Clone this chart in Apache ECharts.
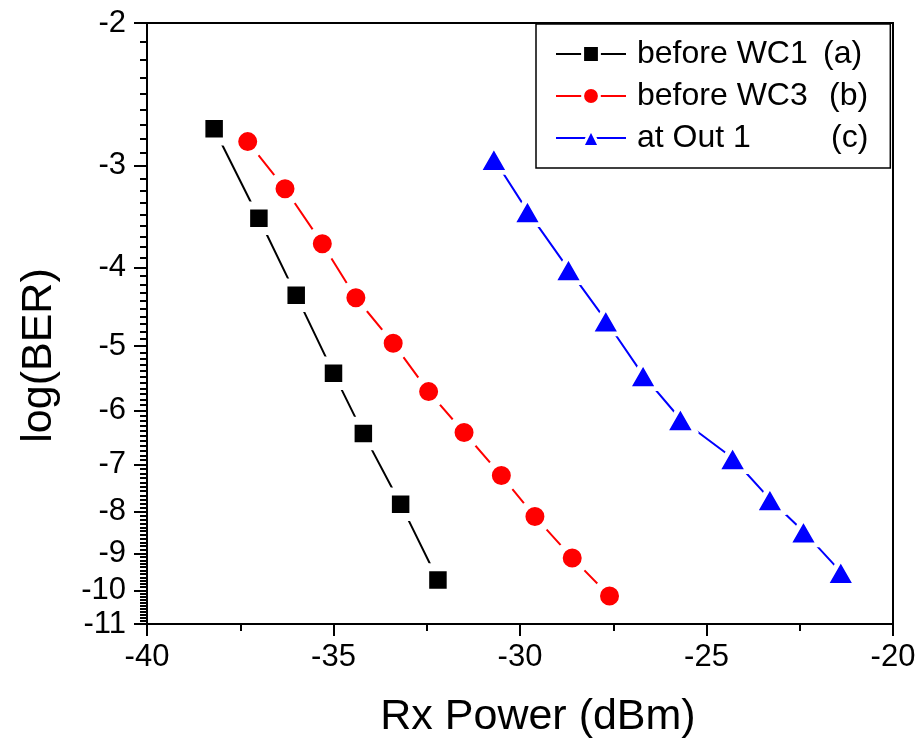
<!DOCTYPE html>
<html>
<head>
<meta charset="utf-8">
<script src="https://cdn.jsdelivr.net/npm/echarts@6/dist/echarts.min.js"></script>
<style>
  html, body { margin: 0; padding: 0; background: #fff; }
  #chart { width: 921px; height: 741px; }
</style>
</head>
<body>
<div id="chart"></div>
<script>
// Rx power (dBm) and log(BER)
const xWC1 = [-38.2, -37.0, -36.0, -35.0, -34.2, -33.2, -32.2];
const yWC1 = [-2.70, -3.48, -4.33, -5.40, -6.41, -7.83, -9.71];
const xWC3 = [-37.3, -36.3, -35.3, -34.4, -33.4, -32.45, -31.5, -30.5, -29.6, -28.6, -27.6];
const yWC3 = [-2.80, -3.20, -3.74, -4.36, -4.96, -5.69, -6.39, -7.22, -8.11, -9.12, -10.16];
const xOut1 = [-30.7, -29.8, -28.7, -27.7, -26.7, -25.7, -24.3, -23.3, -22.4, -21.4];
const yOut1 = [-2.94, -3.41, -4.02, -4.65, -5.43, -6.15, -6.87, -7.72, -8.46, -9.49];

const yTickLabels = [-2, -3, -4, -5, -6, -7, -8, -9, -10, -11];
const minorSteps = [9, 9, 10, 11, 11, 11, 11, 11, 11]; // minor subdivisions per decade of log(BER)
const seriesNames = ['before WC1 (a)', 'before WC3 (b)', 'at Out 1 (c)'];

// y axis is drawn as log10(-log(BER)), like the original plot
const tr = v => Math.log10(-v);
const pts = (xs, ys) => xs.map((x, i) => [x, tr(ys[i])]);

const majorVals = yTickLabels.map(tr);
let minorVals = [];
for (let i = 0; i < yTickLabels.length - 1; i++) {
  const n = minorSteps[i];
  for (let k = 1; k < n; k++) {
    minorVals.push(tr(yTickLabels[i] - k / n));
  }
}

const font = 'Liberation Sans, Arial, sans-serif';
let myChart = echarts.init(document.getElementById('chart'));

const legendTag = {
  'before WC1 (a)': ['n1', 'before WC1', '(a)'],
  'before WC3 (b)': ['n2', 'before WC3', '(b)'],
  'at Out 1 (c)': ['n3', 'at Out 1', '(c)']
};

myChart.setOption({
  animation: false,
  backgroundColor: '#fff',
  grid: {
    left: 147, top: 23, right: 28, bottom: 117,
    outerBoundsMode: 'none',
    containLabel: false,
    show: true, borderColor: '#000', borderWidth: 2, backgroundColor: 'transparent'
  },
  legend: {
    data: seriesNames,
    orient: 'vertical',
    left: 536, top: 24,
    padding: [14, 22, 14, 19],
    itemWidth: 70, itemHeight: 21, itemGap: 10,
    backgroundColor: '#fff',
    borderColor: '#000', borderWidth: 1.5,
    itemStyle: { borderColor: '#fff', borderWidth: 3 },
    formatter: function (name) {
      const t = legendTag[name];
      return '{' + t[0] + '|' + t[1] + '}{t|' + t[2] + '}';
    },
    textStyle: {
      fontFamily: font, fontSize: 32, color: '#000', lineHeight: 32,
      rich: {
        n1: { fontFamily: font, fontSize: 32, width: 186, padding: [0, 0, 0, 6] },
        n2: { fontFamily: font, fontSize: 32, width: 192, padding: [0, 0, 0, 6] },
        n3: { fontFamily: font, fontSize: 32, width: 194, padding: [0, 0, 0, 6] },
        t: { fontFamily: font, fontSize: 32 }
      }
    }
  },
  xAxis: {
    type: 'value',
    min: -40, max: -20, interval: 5,
    name: 'Rx Power (dBm)',
    nameLocation: 'middle',
    nameGap: 72,
    nameTextStyle: { fontFamily: font, fontSize: 43, color: '#000', padding: [0, 0, 0, 36] },
    axisLine: { lineStyle: { color: '#000', width: 2 } },
    axisTick: { length: 12, lineStyle: { color: '#000', width: 2 } },
    minorTick: { show: true, splitNumber: 2, length: 7, lineStyle: { color: '#000', width: 2 } },
    axisLabel: { fontFamily: font, fontSize: 31, color: '#000', margin: 18 },
    splitLine: { show: false }
  },
  yAxis: [{
    type: 'value',
    inverse: true,
    min: Math.log10(2), max: Math.log10(11),
    name: 'log(BER)',
    nameLocation: 'middle',
    nameGap: 86,
    nameTextStyle: { fontFamily: font, fontSize: 43, color: '#000', padding: [0, 64, 0, 0] },
    axisLine: { lineStyle: { color: '#000', width: 2 } },
    axisTick: { length: 13, customValues: majorVals, lineStyle: { color: '#000', width: 2 } },
    axisLabel: {
      customValues: majorVals,
      fontFamily: font, fontSize: 31, color: '#000', margin: 21,
      formatter: v => String(-Math.round(Math.pow(10, v)))
    },
    splitLine: { show: false }
  }, {
    // minor ticks only
    type: 'value',
    inverse: true,
    position: 'left',
    min: Math.log10(2), max: Math.log10(11),
    axisLine: { show: false },
    axisTick: { length: 7, customValues: minorVals, lineStyle: { color: '#000', width: 2 } },
    axisLabel: { show: false },
    splitLine: { show: false }
  }],
  series: [
    {
      name: seriesNames[0], type: 'line', data: pts(xWC1, yWC1),
      symbol: 'rect', symbolSize: 25.5,
      lineStyle: { color: '#000', width: 2 },
      itemStyle: { color: '#000', borderColor: '#fff', borderWidth: 8 }
    },
    {
      name: seriesNames[1], type: 'line', data: pts(xWC3, yWC3),
      symbol: 'circle', symbolSize: 27,
      lineStyle: { color: '#ff0000', width: 2 },
      itemStyle: { color: '#ff0000', borderColor: '#fff', borderWidth: 8 }
    },
    {
      name: seriesNames[2], type: 'line', data: pts(xOut1, yOut1),
      symbol: 'triangle', symbolSize: [31, 27],
      lineStyle: { color: '#0000ff', width: 2 },
      itemStyle: { color: '#0000ff', borderColor: '#fff', borderWidth: 5, borderJoin: 'round' }
    }
  ]
});
</script>
</body>
</html>
